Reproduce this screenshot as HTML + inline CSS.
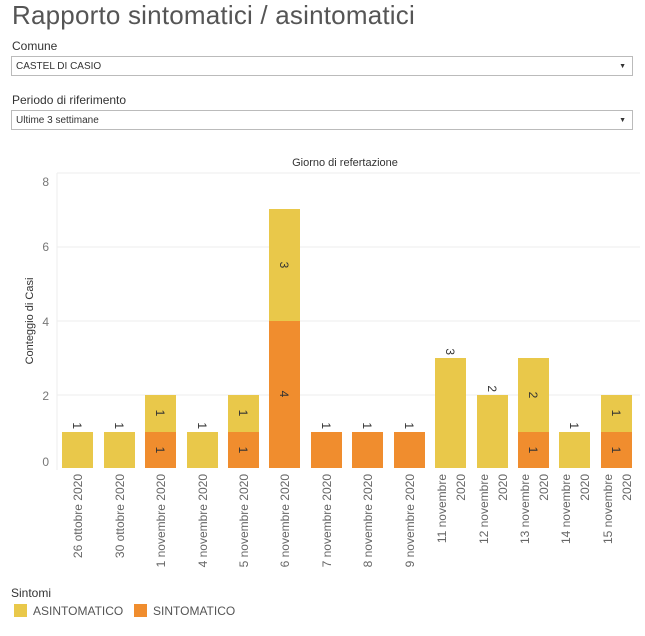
<!DOCTYPE html>
<html><head><meta charset="utf-8"><style>
body{margin:0;background:#fff;width:645px;height:636px;overflow:hidden;font-family:"Liberation Sans",sans-serif;color:#333}
.t{position:absolute;left:12px;top:0px;font-size:26px;color:#555;font-weight:300;letter-spacing:0.2px}
.lbl{position:absolute;left:12px;font-size:12px;color:#333}
.sel{position:absolute;left:11px;width:622px;height:18px;border:1px solid #bbb;font-size:10px;color:#333;line-height:18px;box-sizing:border-box;padding-left:4px}
.sel:after{content:"▼";position:absolute;right:6px;top:0;font-size:7px;color:#333}
</style></head><body>
<div class="t">Rapporto sintomatici / asintomatici</div>
<div class="lbl" style="top:39px">Comune</div>
<div class="sel" style="top:56px;height:20px;line-height:20px">CASTEL DI CASIO</div>
<div class="lbl" style="top:93px">Periodo di riferimento</div>
<div class="sel" style="top:110px;height:20px;line-height:20px">Ultime 3 settimane</div>
<svg width="645" height="636" style="position:absolute;left:0;top:0" font-family="Liberation Sans, sans-serif">
<text x="345" y="166" font-size="11" fill="#333" text-anchor="middle">Giorno di refertazione</text>
<line x1="57" y1="173" x2="640" y2="173" stroke="#eee"/>
<line x1="57" y1="247" x2="640" y2="247" stroke="#eee"/>
<line x1="57" y1="321" x2="640" y2="321" stroke="#eee"/>
<line x1="57" y1="395" x2="640" y2="395" stroke="#eee"/>
<line x1="57" y1="173" x2="57" y2="470" stroke="#eee"/>
<g font-size="12" fill="#777" text-anchor="end">
<text x="49" y="186">8</text><text x="49" y="251">6</text><text x="49" y="326">4</text><text x="49" y="400">2</text><text x="49" y="466">0</text>
</g>
<text transform="translate(33,321) rotate(-90)" font-size="11" fill="#333" text-anchor="middle">Conteggio di Casi</text>
<g font-size="11" fill="#333">
<rect x="62" y="432" width="31" height="36" fill="#e9c84a"/>
<rect x="104" y="432" width="31" height="36" fill="#e9c84a"/>
<rect x="145" y="432" width="31" height="36" fill="#f08d2e"/><rect x="145" y="395" width="31" height="37" fill="#e9c84a"/>
<rect x="187" y="432" width="31" height="36" fill="#e9c84a"/>
<rect x="228" y="432" width="31" height="36" fill="#f08d2e"/><rect x="228" y="395" width="31" height="37" fill="#e9c84a"/>
<rect x="269" y="321" width="31" height="147" fill="#f08d2e"/><rect x="269" y="209" width="31" height="112" fill="#e9c84a"/>
<rect x="311" y="432" width="31" height="36" fill="#f08d2e"/>
<rect x="352" y="432" width="31" height="36" fill="#f08d2e"/>
<rect x="394" y="432" width="31" height="36" fill="#f08d2e"/>
<rect x="435" y="358" width="31" height="110" fill="#e9c84a"/>
<rect x="477" y="395" width="31" height="73" fill="#e9c84a"/>
<rect x="518" y="432" width="31" height="36" fill="#f08d2e"/><rect x="518" y="358" width="31" height="74" fill="#e9c84a"/>
<rect x="559" y="432" width="31" height="36" fill="#e9c84a"/>
<rect x="601" y="432" width="31" height="36" fill="#f08d2e"/><rect x="601" y="395" width="31" height="37" fill="#e9c84a"/>
</g>
<g font-size="12" fill="#333">
<text transform="translate(73,429) rotate(90)" text-anchor="end">1</text>
<text transform="translate(115,429) rotate(90)" text-anchor="end">1</text>
<text transform="translate(156,413) rotate(90)" text-anchor="middle">1</text>
<text transform="translate(156,450) rotate(90)" text-anchor="middle">1</text>
<text transform="translate(198,429) rotate(90)" text-anchor="end">1</text>
<text transform="translate(239,413) rotate(90)" text-anchor="middle">1</text>
<text transform="translate(239,450) rotate(90)" text-anchor="middle">1</text>
<text transform="translate(280,265) rotate(90)" text-anchor="middle">3</text>
<text transform="translate(280,394) rotate(90)" text-anchor="middle">4</text>
<text transform="translate(322,429) rotate(90)" text-anchor="end">1</text>
<text transform="translate(363,429) rotate(90)" text-anchor="end">1</text>
<text transform="translate(405,429) rotate(90)" text-anchor="end">1</text>
<text transform="translate(446,355) rotate(90)" text-anchor="end">3</text>
<text transform="translate(488,392) rotate(90)" text-anchor="end">2</text>
<text transform="translate(529,395) rotate(90)" text-anchor="middle">2</text>
<text transform="translate(529,450) rotate(90)" text-anchor="middle">1</text>
<text transform="translate(570,429) rotate(90)" text-anchor="end">1</text>
<text transform="translate(612,413) rotate(90)" text-anchor="middle">1</text>
<text transform="translate(612,450) rotate(90)" text-anchor="middle">1</text>
</g>
<g font-size="12" fill="#666" text-anchor="end">
<text transform="translate(82,474) rotate(-90)">26 ottobre 2020</text>
<text transform="translate(124,474) rotate(-90)">30 ottobre 2020</text>
<text transform="translate(165,474) rotate(-90)">1 novembre 2020</text>
<text transform="translate(207,474) rotate(-90)">4 novembre 2020</text>
<text transform="translate(248,474) rotate(-90)">5 novembre 2020</text>
<text transform="translate(289,474) rotate(-90)">6 novembre 2020</text>
<text transform="translate(331,474) rotate(-90)">7 novembre 2020</text>
<text transform="translate(372,474) rotate(-90)">8 novembre 2020</text>
<text transform="translate(414,474) rotate(-90)">9 novembre 2020</text>
<text transform="translate(446,474) rotate(-90)">11 novembre</text><text transform="translate(465,474) rotate(-90)">2020</text>
<text transform="translate(488,474) rotate(-90)">12 novembre</text><text transform="translate(507,474) rotate(-90)">2020</text>
<text transform="translate(529,474) rotate(-90)">13 novembre</text><text transform="translate(548,474) rotate(-90)">2020</text>
<text transform="translate(570,474) rotate(-90)">14 novembre</text><text transform="translate(589,474) rotate(-90)">2020</text>
<text transform="translate(612,474) rotate(-90)">15 novembre</text><text transform="translate(631,474) rotate(-90)">2020</text>
</g>
<text x="11" y="597" font-size="12" fill="#333">Sintomi</text>
<rect x="14" y="604" width="13" height="13" fill="#e9c84a"/>
<text x="33" y="615" font-size="12" fill="#555">ASINTOMATICO</text>
<rect x="134" y="604" width="13" height="13" fill="#f08d2e"/>
<text x="153" y="615" font-size="12" fill="#555">SINTOMATICO</text>
</svg>
</body></html>
